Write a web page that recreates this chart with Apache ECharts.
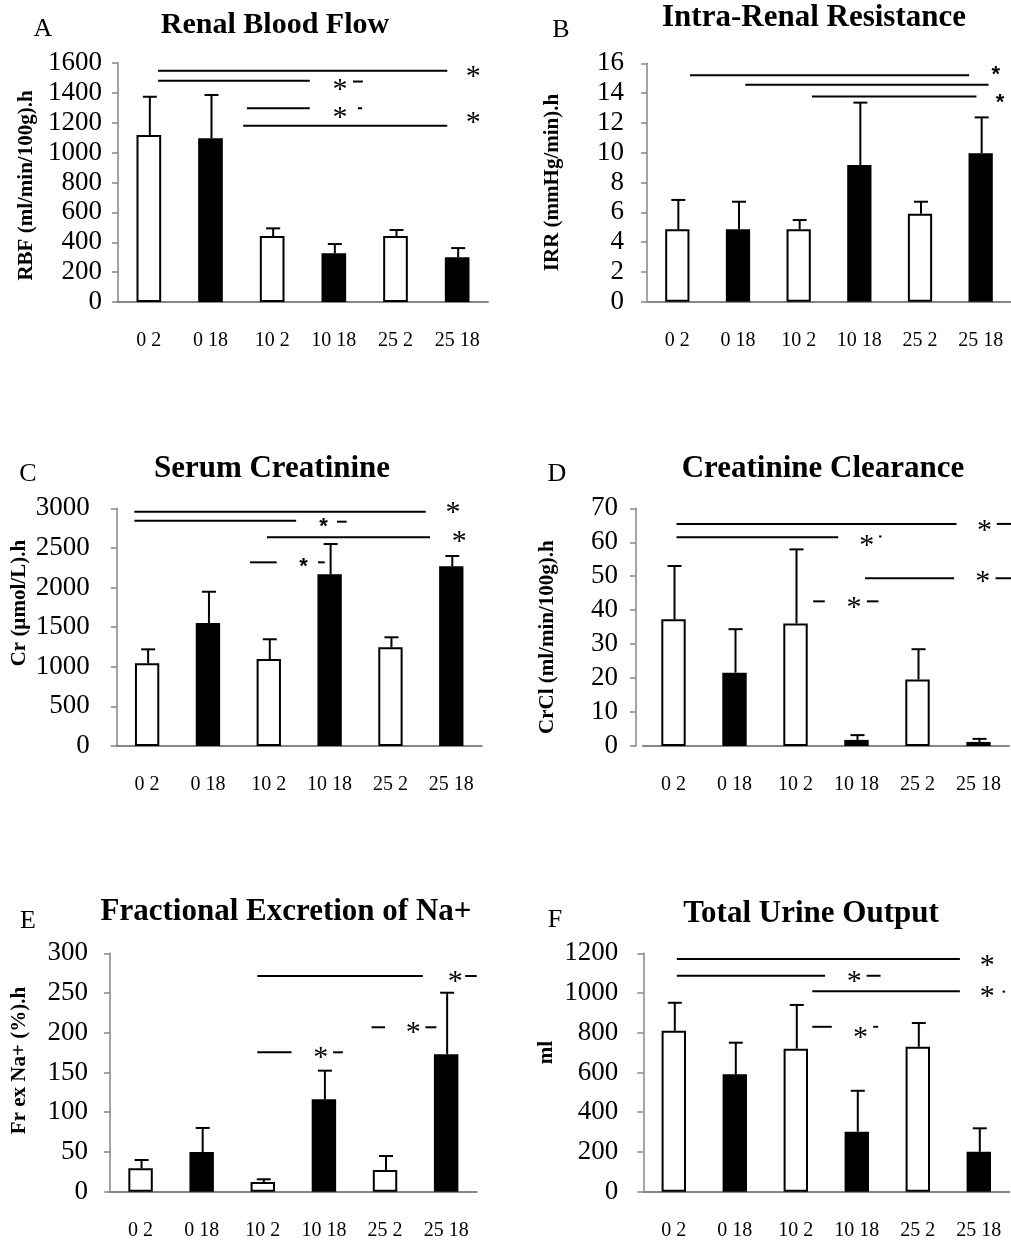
<!DOCTYPE html>
<html>
<head>
<meta charset="utf-8">
<script src="https://cdn.jsdelivr.net/npm/echarts@6/dist/echarts.min.js"></script>
<style>
html, body { margin: 0; background: #fff; }
#chart { width: 1011px; height: 1243px; }
</style>
</head>
<body>
<div id="chart"></div>
<script>
// groups: dose (0 / 10 / 25) and hours (2 / 18)
var groups = ['0 2', '0 18', '10 2', '10 18', '25 2', '25 18'];
var hours = [2, 18, 2, 18, 2, 18];

// A - Renal Blood Flow
var rbfMean = [1118, 1096, 442, 326, 442, 299];
var rbfSD = [256, 290, 51, 62, 40, 62];
var rbfSig = [[0.15, 4.84, 1548], [0.15, 2.61, 1481], [1.59, 2.61, 1297], [1.53, 4.84, 1180],
              [3.31, 3.47, 1476], [3.39, 3.46, 1297]];
var rbfStars = [[5.26, 1540], [3.10, 1453], [3.10, 1265], [5.26, 1232]];

// B - Intra-Renal Resistance
var irrMean = [4.86, 4.86, 4.86, 9.17, 5.9, 9.96];
var irrSD = [1.97, 1.85, 0.62, 4.19, 0.81, 2.41];
var irrSig = [[0.21, 4.81, 15.19], [1.12, 5.13, 14.56], [2.22, 4.93, 13.78]];
var irrBoldStars = [[5.25, 15.55], [5.32, 13.65]];

// C - Serum Creatinine
var crMean = [1044, 1552, 1098, 2167, 1246, 2268];
var crSD = [176, 395, 249, 382, 126, 130];
var crSig = [[-0.21, 4.58, 2957], [-0.21, 2.45, 2843], [1.97, 4.65, 2634], [1.69, 2.13, 2318],
             [3.12, 3.28, 2831], [2.81, 2.92, 2318]];
var crStars = [[5.03, 3000], [5.13, 2634]];
var crBoldStars = [[2.90, 2831], [2.57, 2326]];

// D - Creatinine Clearance
var crclMean = [37.3, 21.6, 36.1, 1.8, 19.6, 1.2];
var crclSD = [15.7, 12.8, 21.8, 1.4, 8.9, 0.9];
var crclSig = [[0.05, 4.64, 65.4], [0.05, 2.70, 61.5], [3.14, 4.60, 49.4], [2.29, 2.48, 42.6],
               [3.17, 3.36, 42.6], [5.30, 5.6, 65.4], [5.28, 5.6, 49.4], [3.37, 3.41, 61.7]];
var crclStars = [[5.10, 64.8], [3.17, 60.2], [5.07, 49.8], [2.96, 42.0]];

// E - Fractional Excretion of Na+
var feMean = [29.4, 50.0, 12.2, 116.3, 27.3, 172.9];
var feSD = [10.5, 30.2, 3.4, 36.0, 17.6, 77.5];
var feSig = [[1.91, 4.62, 271.4], [5.31, 5.50, 271.4], [3.78, 4.00, 206.9], [4.66, 4.84, 206.9],
             [1.91, 2.47, 175.4], [3.15, 3.31, 175.4]];
var feStars = [[5.15, 270.5], [4.46, 205.6], [2.95, 174]];

// F - Total Urine Output
var uoMean = [810, 591, 720, 302, 730, 201];
var uoSD = [141, 159, 220, 206, 119, 118];
var uoSig = [[0.05, 4.69, 1171], [0.05, 2.48, 1087], [3.16, 3.39, 1087], [2.27, 4.69, 1009],
             [2.27, 2.59, 830], [3.27, 3.35, 830], [5.39, 5.43, 1007]];
var uoStars = [[5.14, 1161], [2.96, 1082], [5.14, 1007], [3.06, 800]];

var panels = [
    {letter: 'A', title: 'Renal Blood Flow', yName: 'RBF (ml/min/100g).h',
     mean: rbfMean, sd: rbfSD, max: 1600, step: 200, sig: rbfSig, stars: rbfStars, bold: [],
     grid: {left: 118, top: 63, width: 370, height: 239}, offset: 0,
     labelMargin: 16, nameGap: 81, nameShift: -3, title_x: 275, title_y: 25, titleSize: 30, let_x: 43, let_y: 29},
    {letter: 'B', title: 'Intra-Renal Resistance', yName: 'IRR (mmHg/min).h',
     mean: irrMean, sd: irrSD, max: 16, step: 2, sig: irrSig, stars: [], bold: irrBoldStars,
     grid: {left: 647, top: 63.3, width: 368, height: 238.4}, offset: 0,
     labelMargin: 23, nameGap: 84, nameShift: 0, title_x: 814, title_y: 18, titleSize: 31, let_x: 561, let_y: 30},
    {letter: 'C', title: 'Serum Creatinine', yName: 'Cr (µmol/L).h',
     mean: crMean, sd: crSD, max: 3000, step: 500, sig: crSig, stars: crStars, bold: crBoldStars,
     grid: {left: 116.7, top: 508.3, width: 365, height: 237.7}, offset: 0,
     labelMargin: 27, nameGap: 87, nameShift: 24, title_x: 272, title_y: 469, titleSize: 31, let_x: 28, let_y: 474},
    {letter: 'D', title: 'Creatinine Clearance', yName: 'CrCl (ml/min/100g).h',
     mean: crclMean, sd: crclSD, max: 70, step: 10, sig: crclSig, stars: crclStars, bold: [],
     grid: {left: 643, top: 508.3, width: 366, height: 237.7}, offset: 7,
     labelMargin: 18, nameGap: 78, nameShift: -10, title_x: 823, title_y: 469, titleSize: 31, let_x: 557, let_y: 474},
    {letter: 'E', title: 'Fractional Excretion of Na+', yName: 'Fr ex Na+ (%).h',
     mean: feMean, sd: feSD, max: 300, step: 50, sig: feSig, stars: feStars, bold: [],
     grid: {left: 110, top: 953.3, width: 366.7, height: 238.4}, offset: 0,
     labelMargin: 22, nameGap: 80, nameShift: 12, title_x: 286, title_y: 912, titleSize: 31, let_x: 28, let_y: 921},
    {letter: 'F', title: 'Total Urine Output', yName: 'ml',
     mean: uoMean, sd: uoSD, max: 1200, step: 200, sig: uoSig, stars: uoStars, bold: [],
     grid: {left: 643.3, top: 953.3, width: 366, height: 238.4}, offset: 0,
     labelMargin: 25, nameGap: 86, nameShift: 20, title_x: 811, title_y: 914, titleSize: 31, let_x: 555, let_y: 920}
];

var serif = 'Liberation Serif, Times New Roman, serif';
var axisGray = '#868686';

var grids = [], xAxes = [], yAxes = [], series = [], texts = [];

function starSeries(i, data, font, dy) {
    return {
        type: 'custom', xAxisIndex: 2 * i + 1, yAxisIndex: i, z: 5, silent: true,
        data: data,
        renderItem: function (params, api) {
            var c = api.coord([api.value(0), api.value(1)]);
            return {type: 'text', x: c[0], y: c[1] + dy,
                style: {text: '*', font: font, fill: '#000', textAlign: 'center', textVerticalAlign: 'middle'}};
        }
    };
}

panels.forEach(function (p, i) {
    grids.push(p.grid);
    xAxes.push({
        type: 'category', gridIndex: i, data: groups,
        axisLine: {lineStyle: {color: axisGray, width: 2}},
        axisTick: {show: false},
        axisLabel: {color: '#000', fontFamily: serif, fontSize: 20, margin: 29}
    });
    xAxes.push({type: 'value', gridIndex: i, min: -0.5, max: 5.5, show: false});
    var pad = p.nameShift >= 0 ? [0, 0, 0, 2 * p.nameShift] : [0, -2 * p.nameShift, 0, 0];
    yAxes.push({
        type: 'value', gridIndex: i, min: 0, max: p.max, interval: p.step, offset: p.offset,
        name: p.yName, nameLocation: 'middle', nameGap: p.nameGap,
        nameTextStyle: {color: '#000', fontFamily: serif, fontWeight: 'bold', fontSize: 21, padding: pad},
        axisLine: {show: true, onZero: false, lineStyle: {color: axisGray, width: 1.5}},
        axisTick: {show: true, length: 6, lineStyle: {color: axisGray, width: 1.5}},
        splitLine: {show: false},
        axisLabel: {color: '#000', fontFamily: serif, fontSize: 27, margin: p.labelMargin,
                    formatter: function (v) { return String(v); }}
    });

    series.push({
        type: 'bar', xAxisIndex: 2 * i, yAxisIndex: i, barWidth: '40%', silent: true,
        data: p.mean.map(function (m, k) {
            var white = hours[k] === 2;
            return {value: m, itemStyle: {color: white ? '#fff' : '#000', borderColor: '#000', borderWidth: white ? 2 : 0}};
        })
    });

    // error bars (upper half only, as in the figure)
    series.push({
        type: 'custom', xAxisIndex: 2 * i, yAxisIndex: i, z: 3, silent: true,
        data: p.mean.map(function (m, k) { return [k, m, m + p.sd[k]]; }),
        renderItem: function (params, api) {
            var lo = api.coord([api.value(0), api.value(1)]);
            var hi = api.coord([api.value(0), api.value(2)]);
            var x = lo[0] + 1, w = 7;
            return {type: 'group', children: [
                {type: 'line', shape: {x1: x, y1: lo[1], x2: x, y2: hi[1]}, style: {stroke: '#000', lineWidth: 2}},
                {type: 'line', shape: {x1: x - w, y1: hi[1], x2: x + w, y2: hi[1]}, style: {stroke: '#000', lineWidth: 2}}
            ]};
        }
    });

    // significance bars
    series.push({
        type: 'custom', xAxisIndex: 2 * i + 1, yAxisIndex: i, z: 4, silent: true,
        data: p.sig,
        renderItem: function (params, api) {
            var a = api.coord([api.value(0), api.value(2)]);
            var b = api.coord([api.value(1), api.value(2)]);
            return {type: 'line', shape: {x1: a[0], y1: a[1], x2: b[0], y2: b[1]}, style: {stroke: '#000', lineWidth: 2}};
        }
    });

    if (p.stars.length) series.push(starSeries(i, p.stars, '30px ' + serif, 5));
    if (p.bold.length) series.push(starSeries(i, p.bold, 'bold 22px Liberation Sans, Arial, sans-serif', 5));

    texts.push({type: 'text', x: p.title_x, y: p.title_y,
        style: {text: p.title, font: 'bold ' + p.titleSize + 'px ' + serif, fill: '#000', textAlign: 'center', textVerticalAlign: 'middle'}});
    texts.push({type: 'text', x: p.let_x, y: p.let_y,
        style: {text: p.letter, font: '26px ' + serif, fill: '#000', textAlign: 'center', textVerticalAlign: 'middle'}});
});

var myChart = echarts.init(document.getElementById('chart'));
var option = {
    backgroundColor: '#fff',
    animation: false,
    grid: grids,
    xAxis: xAxes,
    yAxis: yAxes,
    graphic: texts,
    series: series
};
myChart.setOption(option);
</script>
</body>
</html>
